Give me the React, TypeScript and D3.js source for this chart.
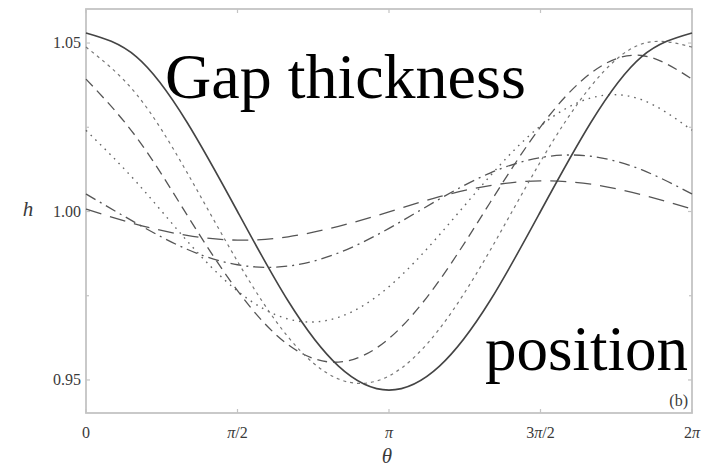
import React from "react";
import * as d3 from "d3";

// Sample angles, in multiples of π
const thetaPi = [0, 1 / 6, 2 / 6, 3 / 6, 4 / 6, 5 / 6, 1, 7 / 6, 8 / 6, 9 / 6, 10 / 6, 11 / 6, 2];

// Gap thickness h(θ) for each profile
const hSolid = [1.053, 1.0459, 1.0265, 1.0, 0.9735, 0.9541, 0.947, 0.9541, 0.9735, 1.0, 1.0265, 1.0459, 1.053];
const hFineDot = [1.0488, 1.0348, 1.0116, 0.9852, 0.9628, 0.9503, 0.9512, 0.9652, 0.9884, 1.0148, 1.0372, 1.0497, 1.0488];
const hDash = [1.0393, 1.022, 0.999, 0.9765, 0.9605, 0.9553, 0.9623, 0.9796, 1.0026, 1.0251, 1.0411, 1.0463, 1.0393];
const hDot = [1.0241, 1.0087, 0.9913, 0.9764, 0.9681, 0.9686, 0.9777, 0.9931, 1.0105, 1.0254, 1.0337, 1.0332, 1.0241];
const hDashDot = [1.0052, 0.9965, 0.9888, 0.9842, 0.9838, 0.9877, 0.995, 1.0037, 1.0114, 1.016, 1.0164, 1.0124, 1.0052];
const hLongDash = [1.0007, 0.9962, 0.9929, 0.9915, 0.9925, 0.9956, 0.9999, 1.0044, 1.0077, 1.0091, 1.0081, 1.005, 1.0007];

const yTickValues = [0.95, 1.0, 1.05];
const yTickLabels = ["0.95", "1.00", "1.05"];
const yMinorTicks = [0.975, 1.025];
const xTickValues = [0, 0.5, 1, 1.5, 2];
const xTickLabels: [string, string][] = [
  ["0", ""],
  ["", "/2"],
  ["", ""],
  ["3", "/2"],
  ["2", ""],
];

const series = [
  { values: hLongDash, dash: "16,9", color: "#555", width: 1.3 },
  { values: hDashDot, dash: "11,5,2,5", color: "#555", width: 1.3 },
  { values: hDot, dash: "1.6,5", color: "#666", width: 1.4 },
  { values: hDash, dash: "10,6", color: "#555", width: 1.3 },
  { values: hFineDot, dash: "3,4", color: "#777", width: 1.2 },
  { values: hSolid, dash: "none", color: "#444", width: 1.6 },
];

const serif = "Liberation Serif, Times New Roman, Times, DejaVu Serif, serif";

export default function App() {
  const W = 719;
  const H = 475;
  const x = d3.scaleLinear().domain([0, 2 * Math.PI]).range([86, 692]);
  const y = d3.scaleLinear().domain([0.9402, 1.0601]).range([413, 9]);
  const [x0, x1] = x.range();
  const [yb, yt] = y.range();

  const line = d3
    .line<number>()
    .x((_, i) => x(thetaPi[i] * Math.PI))
    .y((d) => y(d))
    .curve(d3.curveNatural);

  const frame = "#c4c4c4";
  const tickColor = "#3a3a3a";
  const txt = { fontFamily: serif } as React.CSSProperties;

  return (
    <svg width={W} height={H} style={{ position: "absolute", left: 0, top: 0, background: "#fff" }}>
      <rect x={0} y={0} width={W} height={H} fill="#fff" />
      {/* frame */}
      <rect x={x0} y={yt} width={x1 - x0} height={yb - yt} fill="none" stroke={frame} strokeWidth={1.8} />
      {/* y ticks, both sides */}
      {yTickValues.map((v) => (
        <g key={"yt" + v} stroke={frame} strokeWidth={1.2}>
          <line x1={x0} x2={x0 + 4} y1={y(v)} y2={y(v)} />
          <line x1={x1} x2={x1 - 4} y1={y(v)} y2={y(v)} />
        </g>
      ))}
      {yMinorTicks.map((v) => (
        <g key={"ym" + v} stroke={frame} strokeWidth={1.2}>
          <line x1={x0} x2={x0 + 3} y1={y(v)} y2={y(v)} />
          <line x1={x1} x2={x1 - 3} y1={y(v)} y2={y(v)} />
        </g>
      ))}
      {/* x ticks, top and bottom */}
      {xTickValues.map((v) => (
        <g key={"xt" + v} stroke={frame} strokeWidth={1.2}>
          <line x1={x(v * Math.PI)} x2={x(v * Math.PI)} y1={yb} y2={yb - 4} />
          <line x1={x(v * Math.PI)} x2={x(v * Math.PI)} y1={yt} y2={yt + 4} />
        </g>
      ))}

      {/* curves */}
      {series.map((s, i) => (
        <path
          key={i}
          d={line(s.values) || ""}
          fill="none"
          stroke={s.color}
          strokeWidth={s.width}
          strokeDasharray={s.dash}
        />
      ))}

      {/* y tick labels */}
      {yTickValues.map((v, i) => (
        <text key={"yl" + v} x={81} y={y(v) + 5} textAnchor="end" style={txt} fontSize={16} fill={tickColor}>
          {yTickLabels[i]}
        </text>
      ))}
      {/* x tick labels */}
      {xTickValues.map((v, i) => (
        <text key={"xl" + v} x={x(v * Math.PI)} y={438} textAnchor="middle" style={txt} fontSize={16} fill={tickColor}>
          {xTickLabels[i][0]}
          {v !== 0 ? <tspan fontStyle="italic">π</tspan> : null}
          {xTickLabels[i][1]}
        </text>
      ))}
      {/* axis titles */}
      <text x={387} y={463} textAnchor="middle" style={txt} fontStyle="italic" fontSize={21} fill={tickColor}>
        θ
      </text>
      <text x={28} y={216} textAnchor="middle" style={txt} fontStyle="italic" fontSize={21} fill={tickColor}>
        h
      </text>
      <text x={688} y={406} textAnchor="end" style={txt} fontSize={16} fill={tickColor}>
        (b)
      </text>

      {/* annotations */}
      <text x={165} y={98} style={txt} fontSize={64} fill="#000">
        Gap thickness
      </text>
      <text x={485} y={370} style={txt} fontSize={63} fill="#000">
        position
      </text>
    </svg>
  );
}
